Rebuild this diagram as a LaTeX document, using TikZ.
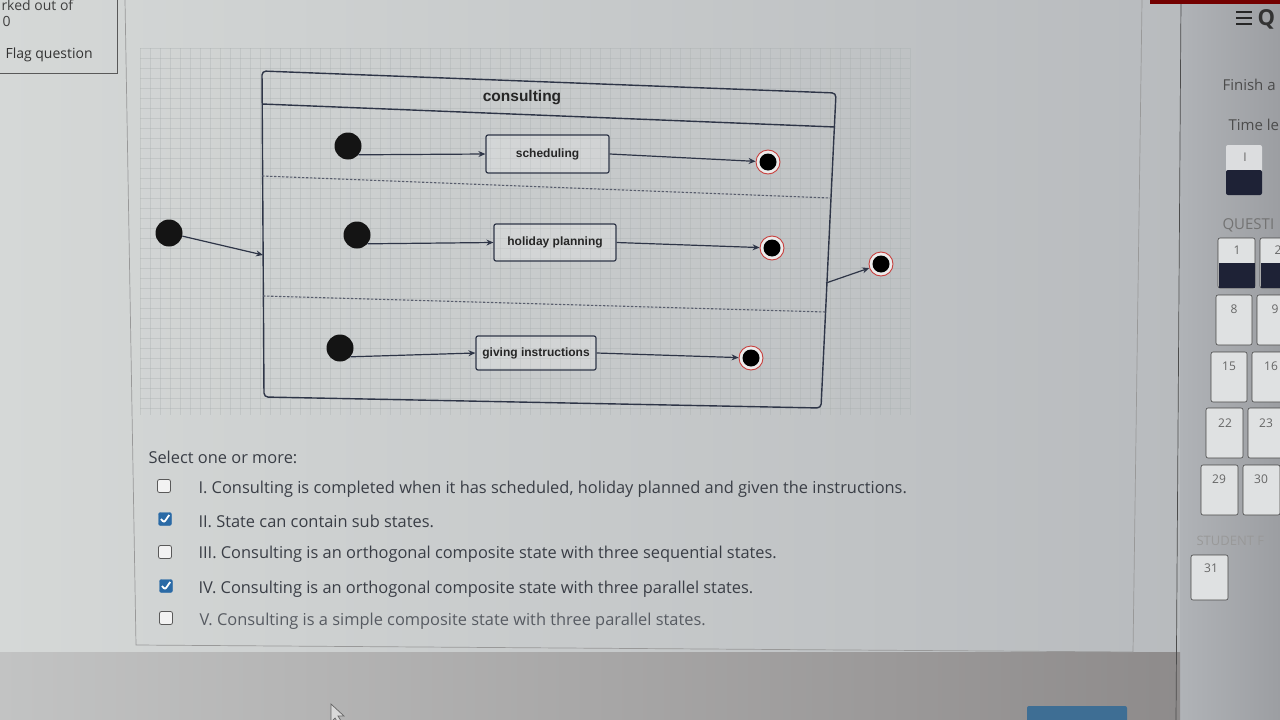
\documentclass[tikz,border=0pt]{standalone}
\usepackage{fontspec}
\setmainfont{Open Sans}
\newfontfamily\diagfont{Liberation Sans}
\usetikzlibrary{arrows.meta}
\definecolor{bgL}{HTML}{D5D8D7}
\definecolor{bgR}{HTML}{B8BBBE}
\definecolor{sideL}{HTML}{B0B3B7}
\definecolor{sideR}{HTML}{9C9EA2}
\definecolor{botL}{HTML}{C2C3C3}
\definecolor{botR}{HTML}{8E8B8B}
\definecolor{navy}{HTML}{2E3547}
\definecolor{ringred}{HTML}{C8403E}
\definecolor{txt}{HTML}{3A3E46}
\definecolor{chkblue}{HTML}{2A6AA6}
\definecolor{darknavy}{HTML}{1E2236}
\definecolor{btnblue}{HTML}{3E6E94}
\definecolor{gridc}{HTML}{A8AEAE}
\tikzset{
  initst/.style={circle, fill=black!92, inner sep=0pt, minimum size=27pt},
  finalst/.style={circle, draw=ringred, line width=0.9pt, fill=white!85!gray, inner sep=0pt, minimum size=24pt,
    path picture={\fill[black] (path picture bounding box.center) circle (8.5pt);}},
  statebox/.style={draw=navy, line width=1.2pt, rounded corners=2pt, fill=white, fill opacity=0.2, text opacity=1,
    font=\diagfont\bfseries\fontsize{12}{14}\selectfont, text=black!85},
  arr/.style={draw=navy, line width=1.2pt, -{Stealth[length=7pt,width=6pt]}},
  compline/.style={draw=navy, line width=1.4pt},
  region/.style={draw=navy!80, line width=1.1pt, dash pattern=on 2.5pt off 1.5pt},
  optxt/.style={anchor=west, text=txt, font=\fontsize{16.4}{19}\selectfont},
  cbox/.style={draw=gray!70!black, line width=0.8pt, fill=white!90!gray, rounded corners=2pt, minimum size=13pt, inner sep=0pt},
  cboxon/.style={draw=chkblue, fill=chkblue, rounded corners=2pt, minimum size=13pt, inner sep=0pt,
    path picture={\draw[white, line width=1.8pt] ([xshift=-4pt,yshift=0pt]path picture bounding box.center) -- ([xshift=-1pt,yshift=-3.5pt]path picture bounding box.center) -- ([xshift=4.2pt,yshift=4pt]path picture bounding box.center);}},
  qbtn/.style={draw=gray!55!black, line width=0.6pt, rounded corners=2pt, fill=white!60!sideL},
  qnum/.style={text=black!60, font=\fontsize{12}{14}\selectfont},
  side/.style={text=black!70, anchor=west, font=\fontsize{15}{18}\selectfont},
  gridln/.style={draw=gridc, line width=0.3pt, opacity=0.35}
}
\begin{document}
\begin{tikzpicture}[x=1pt,y=-1pt]
\useasboundingbox (0,0) rectangle (1280,720);
\clip (0,0) rectangle (1280,720);
% background
\fill[left color=bgL, right color=bgR] (0,0) rectangle (1180,720);
\fill[left color=sideL, right color=sideR] (1180,0) rectangle (1280,720);
\fill[left color=botL, right color=botR] (0,652) rectangle (1180,720);
% faint grid behind diagram
\foreach \gx in {140,150,...,910} {\draw[gridln] (\gx,48) -- (\gx,415);}
\foreach \gy in {48,58,...,415} {\draw[gridln] (140,\gy) -- (910,\gy);}
% top-left panel
\draw[black!65, line width=0.8pt] (117,0) -- (117,73) -- (-2,73);
\node[anchor=base west, text=black!75, font=\fontsize{14}{16}\selectfont] (marked) at (-2,10) {rked out of};
\node[anchor=base west, text=black!75, font=\fontsize{14}{16}\selectfont] (zero) at (-1,27) {0};
\node[anchor=base west, text=black!80, font=\fontsize{14}{16}\selectfont] (flag) at (2,58) {Flag question};
% content panel
\draw[black!40, line width=0.7pt] (125,0) -- (136,645) -- (1133,652) -- (1142,0);
% sidebar separator and top bar
\draw[black!70, line width=0.7pt] (1181,0) -- (1176,720);
\fill[red!45!black] (1150,0) rectangle (1280,3.5);
\draw[black!85, line width=2.2pt] (1236,12) -- (1252,12) (1236,18) -- (1252,18) (1236,24) -- (1252,24);
\node[anchor=west, text=black!80, font=\fontsize{22}{24}\selectfont\bfseries] (qchar) at (1254,19) {Q};
% sidebar
\node[side] (finish) at (1219,85) {Finish a};
\node[side] (timeleft) at (1225,125) {Time le};
\fill[white!55!sideL, rounded corners=2pt] (1226,145) rectangle (1262,172);
\fill[darknavy, rounded corners=2pt] (1226,170) rectangle (1262,195);
\node[qnum] (tl) at (1245,157) {I};
\node[side, text=black!55] (questi) at (1219,225) {QUESTI};
% question buttons
\draw[qbtn] (1218,238) rectangle (1255,288);
\fill[darknavy] (1218.5,263) rectangle (1254.5,287.5);
\node[qnum] (q1) at (1237,250) {1};
\draw[qbtn] (1260,238) rectangle (1297,288);
\fill[darknavy] (1260.5,263) rectangle (1296.5,287.5);
\node[qnum] (q2) at (1278,250) {2};
\draw[qbtn] (1216,295) rectangle (1252,345); \node[qnum] (q8) at (1234,309) {8};
\draw[qbtn] (1257,295) rectangle (1293,345); \node[qnum] (q9) at (1275,309) {9};
\draw[qbtn] (1211,352) rectangle (1247,402); \node[qnum] (q15) at (1229,366) {15};
\draw[qbtn] (1252,352) rectangle (1288,402); \node[qnum] (q16) at (1271,366) {16};
\draw[qbtn] (1206,408) rectangle (1243,458); \node[qnum] (q22) at (1225,423) {22};
\draw[qbtn] (1248,408) rectangle (1285,458); \node[qnum] (q23) at (1266,423) {23};
\draw[qbtn] (1201,465) rectangle (1238,515); \node[qnum] (q29) at (1219,479) {29};
\draw[qbtn] (1243,465) rectangle (1280,515); \node[qnum] (q30) at (1261,479) {30};
\node[side, text=black!40, font=\fontsize{13}{15}\selectfont] (student) at (1193,541) {STUDENT F};
\draw[qbtn] (1191,555) rectangle (1228,600); \node[qnum] (q31) at (1211,568) {31};
% bottom button and cursor
\fill[btnblue, rounded corners=2pt] (1027,706) rectangle (1127,724);
\draw[black!60, line width=0.7pt, fill=white!70!gray] (331,704) -- (331,722) -- (335,718) -- (340,726) -- (343,724) -- (338,716) -- (344,716) -- cycle;
% composite state
\draw[compline, rounded corners=4pt] (262,71) -- (836,93) -- (821,408) -- (264,397) -- cycle;
\draw[compline] (262,104) -- (835,127);
\node[font=\diagfont\bfseries\fontsize{15.5}{17}\selectfont, text=black!85] (title) at (522,98) {consulting};
\draw[region] (262,176) -- (830,198);
\draw[region] (263,296) -- (826,312);
% region 1
\node[initst] (i1) at (348,146) {};
\node[statebox, minimum width=123pt, minimum height=38pt] (sch) at (547.5,154) {scheduling};
\node[finalst] (f1) at (768,162) {};
\draw[arr] (i1.-40) -- (sch.west);
\draw[arr] (sch.east) -- (f1);
% region 2
\node[initst] (i2) at (357,235) {};
\node[statebox, minimum width=122pt, minimum height=37pt] (hol) at (555,242.5) {holiday planning};
\node[finalst] (f2) at (772,248) {};
\draw[arr] (i2.-40) -- (hol.west);
\draw[arr] (hol.east) -- (f2);
% region 3
\node[initst] (i3) at (340,348) {};
\node[statebox, minimum width=120pt, minimum height=34pt] (giv) at (536,353) {giving instructions};
\node[finalst] (f3) at (751,358) {};
\draw[arr] (i3.-40) -- (giv.west);
\draw[arr] (giv.east) -- (f3);
% outer initial / final
\node[initst] (i0) at (169,233) {};
\coordinate (cin) at (263,255);
\draw[arr] (i0) -- (cin);
\node[finalst] (f0) at (881,264) {};
\coordinate (cout) at (826,283);
\draw[arr] (cout) -- (f0);
% question text
\node[optxt] (sel) at (145,457) {Select one or more:};
\node[cbox] (c1) at (164,486) {};
\node[optxt] (o1) at (195,489) {I. Consulting is completed when it has scheduled, holiday planned and given the instructions.};
\node[cboxon] (c2) at (165,519) {};
\node[optxt] (o2) at (195,521) {II. State can contain sub states.};
\node[cbox] (c3) at (165,552) {};
\node[optxt] (o3) at (195,554) {III. Consulting is an orthogonal composite state with three sequential states.};
\node[cboxon] (c4) at (166,586) {};
\node[optxt] (o4) at (195,589) {IV. Consulting is an orthogonal composite state with three parallel states.};
\node[cbox] (c5) at (166,618) {};
\node[optxt, text=txt!85] (o5) at (196,621) {V. Consulting is a simple composite state with three parallel states.};
\end{tikzpicture}
\end{document}
